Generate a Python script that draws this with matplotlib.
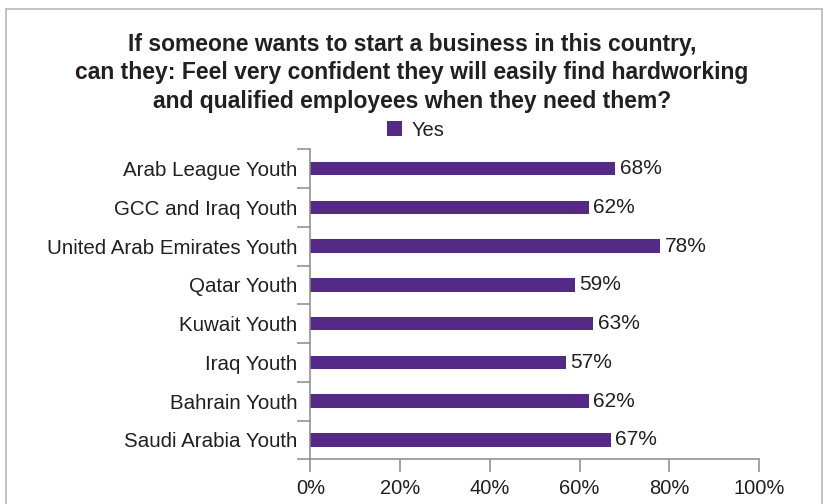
import matplotlib.pyplot as plt
from matplotlib.patches import Rectangle
import numpy as np

# data
categories = [
    "Arab League Youth",
    "GCC and Iraq Youth",
    "United Arab Emirates Youth",
    "Qatar Youth",
    "Kuwait Youth",
    "Iraq Youth",
    "Bahrain Youth",
    "Saudi Arabia Youth",
]
yes_values = [68, 62, 78, 59, 63, 57, 62, 67]
x_ticks = [0, 20, 40, 60, 80, 100]

title = ("If someone wants to start a business in this country,\n"
         "can they: Feel very confident they will easily find hardworking\n"
         "and qualified employees when they need them?")

bar_color = "#552a87"
text_color = "#231f20"
axis_color = "#8a8a8a"

plt.rcParams["font.family"] = ["Liberation Sans", "DejaVu Sans"]

fig = plt.figure(figsize=(8.24, 5.04), dpi=100)
ax = fig.add_axes([0.3768, 0.0887, 0.9211 - 0.3768, 0.7038 - 0.0887])

# outer frame
fig.patches.append(Rectangle((6 / 824, -0.05), 816 / 824, 1.05 - 9 / 504,
                             transform=fig.transFigure, fill=False,
                             edgecolor="#b8b8b8", linewidth=1.2))

y = np.arange(len(categories))
bars = ax.barh(y, yes_values, height=0.35, color=bar_color, label="Yes")
for b, v in zip(bars, yes_values):
    ax.text(b.get_width() + 1.0, b.get_y() + b.get_height() / 2, f"{v}%",
            va="center", ha="left", fontsize=15, color=text_color)

ax.set_xlim(0, 100)
ax.set_ylim(len(categories) - 0.5, -0.5)
ax.set_xticks(x_ticks)
ax.set_xticklabels([f"{t}%" for t in x_ticks])
ax.set_yticks(y)
ax.set_yticklabels(categories)
ax.set_yticks(np.arange(-0.5, len(categories)), minor=True)

ax.tick_params(axis="y", which="major", length=0, pad=9.5,
               labelsize=14.8, labelcolor=text_color)
ax.tick_params(axis="y", which="minor", length=9.5, width=1.1, color=axis_color)
ax.tick_params(axis="x", length=9, width=1.1, color=axis_color, pad=5,
               labelsize=14.5, labelcolor=text_color)

for side in ["top", "right"]:
    ax.spines[side].set_visible(False)
for side in ["left", "bottom"]:
    ax.spines[side].set_color(axis_color)
    ax.spines[side].set_linewidth(1.1)

fig.text(0.5, 1 - 73 / 504, title, ha="center", va="center",
         fontsize=16.5, fontweight="bold", color=text_color,
         linespacing=1.33)

fig.legend(handles=[bars], labels=["Yes"], loc="center",
           bbox_to_anchor=(416 / 824, 1 - 130 / 504), frameon=False,
           fontsize=14.5, handlelength=0.7, handleheight=0.7, handletextpad=0.5,
           labelcolor=text_color)

fig.savefig("out.png", dpi=100)
